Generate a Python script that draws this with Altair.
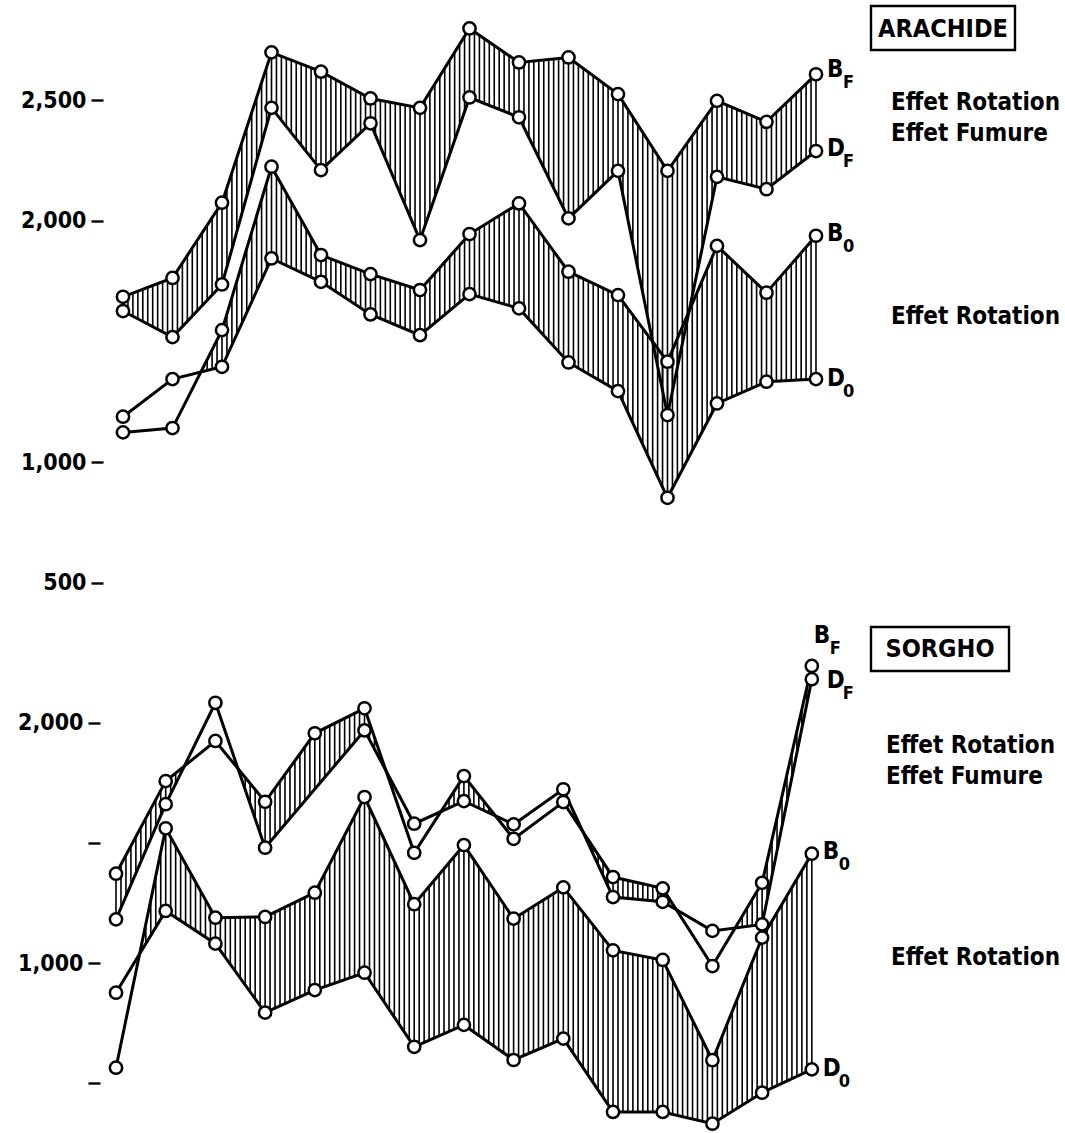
import numpy as np
import pandas as pd
import altair as alt

# Campaign index along the horizontal axis (15 successive years)
years = list(range(15))

# ARACHIDE yields (kg/ha)
arachide_bf = [1685, 1763, 2075, 2698, 2618, 2507, 2468, 2797, 2656, 2677, 2525, 2207, 2497, 2410, 2607]
arachide_df = [1626, 1518, 1736, 2468, 2210, 2404, 1920, 2511, 2429, 2010, 2207, 1195, 2182, 2131, 2289]
arachide_b0 = [1123, 1141, 1547, 2224, 1858, 1779, 1713, 1945, 2072, 1789, 1692, 1416, 1896, 1702, 1938]
arachide_d0 = [1188, 1344, 1395, 1844, 1747, 1612, 1526, 1696, 1637, 1413, 1294, 852, 1243, 1333, 1344]

# SORGHO yields (kg/ha); no D_F measurement for the fifth campaign
sorgho_bf = [1372, 1757, 1924, 1671, 1956, 2060, 1459, 1778, 1517, 1670, 1358, 1311, 988, 1334, 2236]
sorgho_df = [1182, 1661, 2083, 1480, None, 1968, 1580, 1674, 1577, 1723, 1275, 1255, 1134, 1161, 2181]
sorgho_b0 = [565, 1561, 1189, 1192, 1293, 1691, 1245, 1491, 1185, 1315, 1053, 1013, 596, 1106, 1455]
sorgho_d0 = [877, 1217, 1081, 794, 888, 960, 652, 743, 597, 686, 381, 381, 332, 461, 558]

arachide_ticks = [500, 1000, 2000, 2500]
sorgho_ticks = [500, 1000, 1500, 2000]
sorgho_labelled = [1000, 2000]

FONT = "Liberation Sans Narrow, DejaVu Sans Condensed, DejaVu Sans, sans-serif"
INK = "black"


def long_table(series):
    rows = []
    for name, vals in series.items():
        for i, v in zip(years, vals):
            if v is not None:
                rows.append({"i": i, "serie": name, "v": v})
    return pd.DataFrame(rows)


def hatch_table(b, d, step=0.1):
    """Vertical hatch strokes filling the gap where B lies above D."""
    xs = np.round(np.arange(0, years[-1] + 1e-9, step), 4)

    def follow(vals):
        idx = [i for i, v in zip(years, vals) if v is not None]
        vv = [v for v in vals if v is not None]
        return np.interp(xs, idx, vv)

    bb, dd = follow(b), follow(d)
    keep = bb > dd
    return pd.DataFrame({"i": xs[keep], "lo": dd[keep], "hi": bb[keep]})


def panel(title, series, xdom, ydom, k, ticks, label_expr, axis_offset,
          box, title_xy, notes, tags):
    height = (ydom[1] - ydom[0]) * k
    xs = alt.Scale(domain=xdom, nice=False, zero=False)
    ys = alt.Scale(domain=ydom, nice=False, zero=False)
    yaxis = alt.Axis(values=ticks, labelExpr=label_expr, title=None, domain=False,
                     grid=False, tickSize=12, tickWidth=2.4, tickColor=INK,
                     labelFont=FONT, labelFontSize=23, labelFontWeight="bold",
                     labelColor=INK, labelPadding=5, minExtent=100, maxExtent=100,
                     offset=axis_offset)

    names = list(series.keys())
    pts = long_table(series)
    hatch = pd.concat([hatch_table(series[names[0]], series[names[1]]),
                       hatch_table(series[names[2]], series[names[3]])])

    base_x = alt.X("i:Q", scale=xs, axis=None)
    rules = alt.Chart(hatch).mark_rule(color=INK, strokeWidth=1.6).encode(
        x=base_x, y=alt.Y("lo:Q", scale=ys, axis=yaxis), y2="hi:Q")
    lines = alt.Chart(pts).mark_line(color=INK, strokeWidth=3).encode(
        x=base_x, y=alt.Y("v:Q", scale=ys, axis=yaxis), detail="serie:N", order="i:Q")
    dots = alt.Chart(pts).mark_point(shape="circle", filled=True, fill="white",
                                     stroke=INK, strokeWidth=2.5, size=150, opacity=1).encode(
        x=base_x, y=alt.Y("v:Q", scale=ys, axis=yaxis))

    empty = alt.Data(values=[{}])
    layers = [rules, lines, dots]

    bx1, by1, bx2, by2 = box
    layers.append(alt.Chart(empty).mark_rect(filled=False, stroke=INK, strokeWidth=2.4).encode(
        x=alt.value(bx1), x2=alt.value(bx2), y=alt.value(by1), y2=alt.value(by2)))
    layers.append(alt.Chart(empty).mark_text(font=FONT, fontSize=25, fontWeight="bold",
                                             color=INK, align="center", baseline="middle").encode(
        x=alt.value(title_xy[0]), y=alt.value(title_xy[1]), text=alt.value(title)))

    for txt, px, py in notes:
        layers.append(alt.Chart(empty).mark_text(font=FONT, fontSize=24, fontWeight="bold",
                                                 color=INK, align="left", baseline="middle").encode(
            x=alt.value(px), y=alt.value(py), text=alt.value(txt)))

    # series tags (letter plus subscript) next to the last campaign
    for name, letter, sub, dx, dy in tags:
        last = [v for v in series[name] if v is not None][-1]
        layers.append(alt.Chart(empty).mark_text(font=FONT, fontSize=24, fontWeight="bold",
                                                 color=INK, align="left", baseline="middle",
                                                 dx=dx, dy=dy).encode(
            x=alt.datum(years[-1], scale=xs), y=alt.datum(last, scale=ys), text=alt.value(letter)))
        layers.append(alt.Chart(empty).mark_text(font=FONT, fontSize=18, fontWeight="bold",
                                                 color=INK, align="left", baseline="middle",
                                                 dx=dx + 16, dy=dy + 13).encode(
            x=alt.datum(years[-1], scale=xs), y=alt.datum(last, scale=ys), text=alt.value(sub)))

    return alt.layer(*layers).properties(width=960, height=height)


top = panel(
    "ARACHIDE",
    {"BF": arachide_bf, "DF": arachide_df, "B0": arachide_b0, "D0": arachide_d0},
    xdom=[-0.404, 18.99], ydom=[420, 2915], k=0.2413, ticks=arachide_ticks,
    label_expr="format(datum.value, ',')", axis_offset=0,
    box=(768, 6, 912, 50), title_xy=(840, 29),
    notes=[("Effet Rotation", 788, 103), ("Effet Fumure", 788, 134), ("Effet Rotation", 788, 317)],
    tags=[("BF", "B", "F", 11, -4), ("DF", "D", "F", 11, -2),
          ("B0", "B", "0", 11, -2), ("D0", "D", "0", 11, 0)],
)

bottom = panel(
    "SORGHO",
    {"BF": sorgho_bf, "DF": sorgho_df, "B0": sorgho_b0, "D0": sorgho_d0},
    xdom=[-0.2616, 19.054], ydom=[289, 2498], k=0.2404, ticks=sorgho_ticks,
    label_expr="indexof([" + ",".join(str(v) for v in sorgho_labelled) + "], datum.value) >= 0 ? format(datum.value, ',') : ''",
    axis_offset=3,
    box=(768, 24, 906, 68), title_xy=(837, 46),
    notes=[("Effet Rotation", 783, 143), ("Effet Fumure", 783, 174), ("Effet Rotation", 788, 355)],
    tags=[("BF", "B", "F", 2, -30), ("DF", "D", "F", 15, 2),
          ("B0", "B", "0", 11, -2), ("D0", "D", "0", 11, 0)],
)

chart = alt.vconcat(top, bottom, spacing=0).properties(
    padding={"left": 0, "top": 0, "right": 0, "bottom": 0}
).configure(background="white").configure_view(stroke=None, strokeWidth=0)

chart.save("out.html", embed_options={"renderer": "svg", "actions": False})
